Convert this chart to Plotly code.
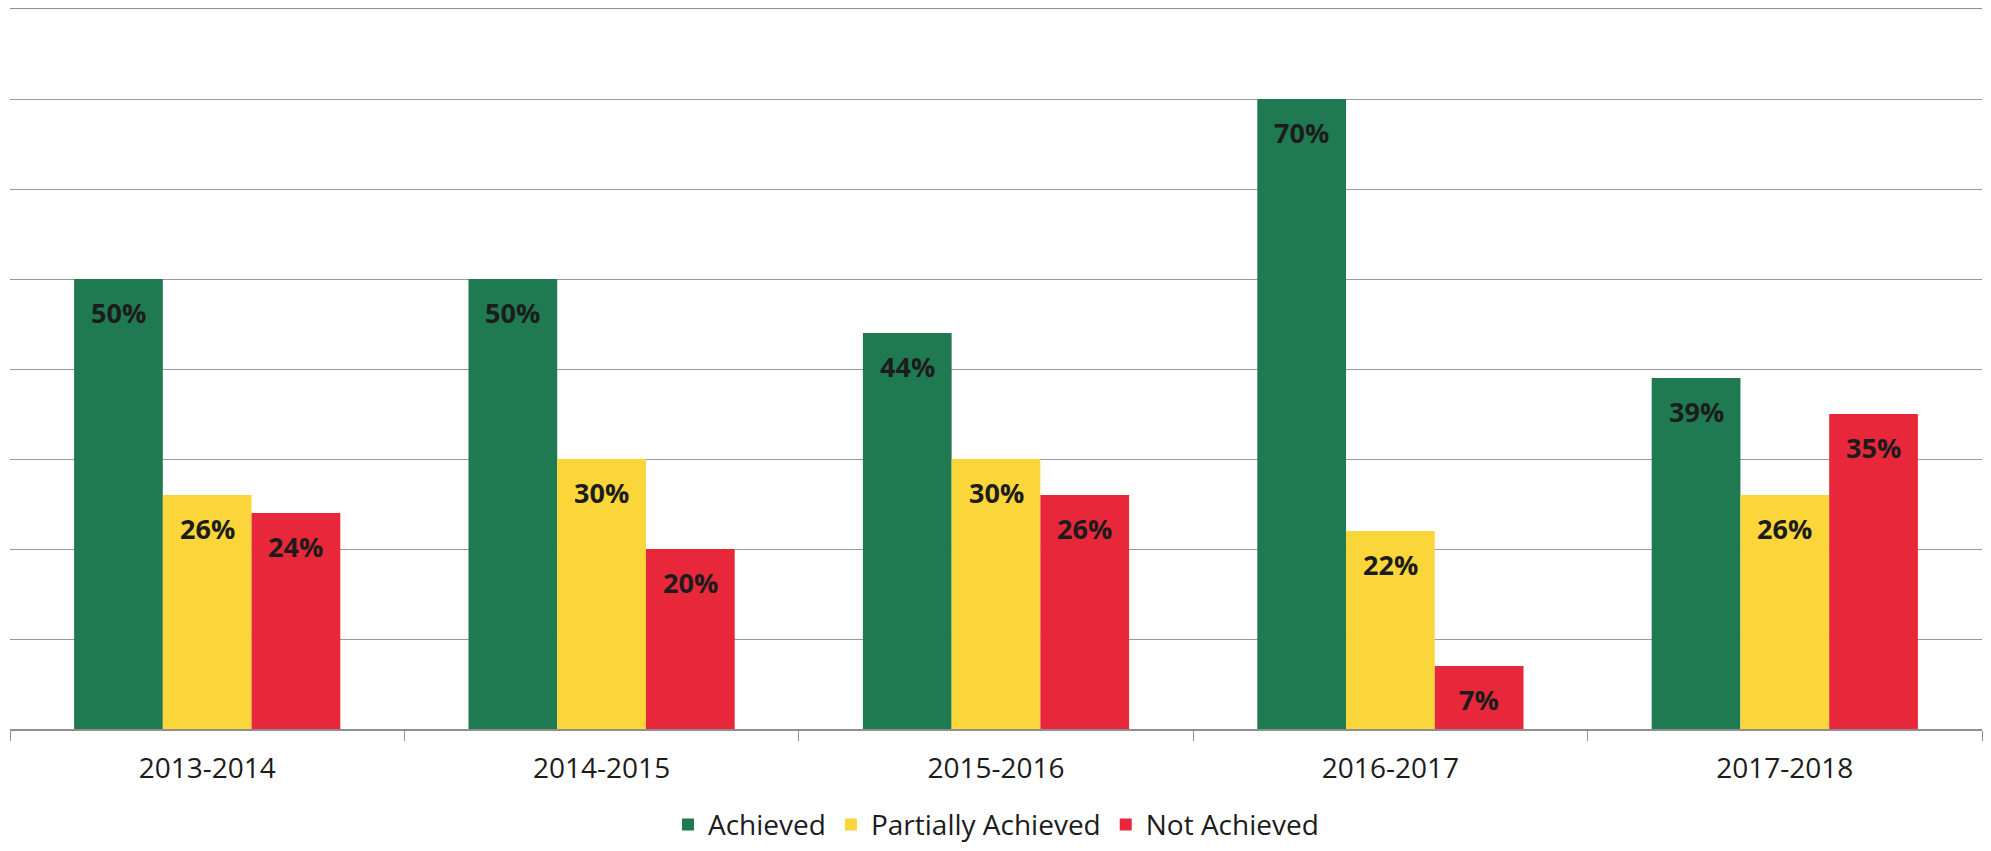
import plotly.graph_objects as go


# Data

years = ["2013-2014", "2014-2015", "2015-2016", "2016-2017", "2017-2018"]

achieved = [50, 50, 44, 70, 39]

partially_achieved = [26, 30, 30, 22, 26]

not_achieved = [24, 20, 26, 7, 35]

series_names = ["Achieved", "Partially Achieved", "Not Achieved"]

series_colors = ["#1F7A52", "#FBD63A", "#E8283A"]


BAR_GAP = 0.325
FONT = "Open Sans"


fig = go.Figure()

all_series = [achieved, partially_achieved, not_achieved]

for name, values, color in zip(series_names, all_series, series_colors):

    fig.add_trace(
        go.Bar(
            x=years,
            y=values,
            name=name,
            marker=dict(color=color, line=dict(width=0)),
            hoverinfo="skip"
        )
    )


# Value labels sit a little below the top of each bar (Excel "inside end")

bar_width = (1 - BAR_GAP) / len(all_series)

for j, values in enumerate(all_series):

    offset = (j - (len(all_series) - 1) / 2) * bar_width

    for i, v in enumerate(values):

        fig.add_annotation(
            x=i + offset,
            y=v,
            xref="x",
            yref="y",
            text=f"<b>{v}%</b>",
            showarrow=False,
            yanchor="middle",
            yshift=-33,
            font=dict(family=FONT, size=27, color="#1c1c1c")
        )


# page body has an 8px default margin, so the figure is sized to fit inside it

fig.update_layout(

    template="plotly_white",

    width=1975,

    height=835,

    paper_bgcolor="white",

    plot_bgcolor="white",

    barmode="group",

    bargap=BAR_GAP,

    bargroupgap=0,

    margin=dict(l=2, r=1, t=1, b=114, autoexpand=False),

    font=dict(family=FONT, size=27, color="#1c1c1c"),

    showlegend=True,

    legend=dict(
        orientation="h",
        x=0.5,
        xanchor="center",
        y=-0.133,
        yanchor="middle",
        font=dict(family=FONT, size=28, color="#1c1c1c"),
        traceorder="normal"
    )
)

fig.update_xaxes(
    showgrid=False,
    showline=True,
    mirror=True,
    linecolor="#8f8f8f",
    linewidth=1.5,
    ticks="outside",
    tickson="boundaries",
    ticklen=10,
    tickcolor="#8f8f8f",
    ticklabelstandoff=14,
    tickfont=dict(family=FONT, size=28, color="#1c1c1c")
)

fig.update_yaxes(
    range=[0, 80],
    dtick=10,
    showticklabels=False,
    showgrid=True,
    gridcolor="#9a9a9a",
    gridwidth=1,
    zeroline=False,
    showline=False
)

fig.write_html("out.html")
